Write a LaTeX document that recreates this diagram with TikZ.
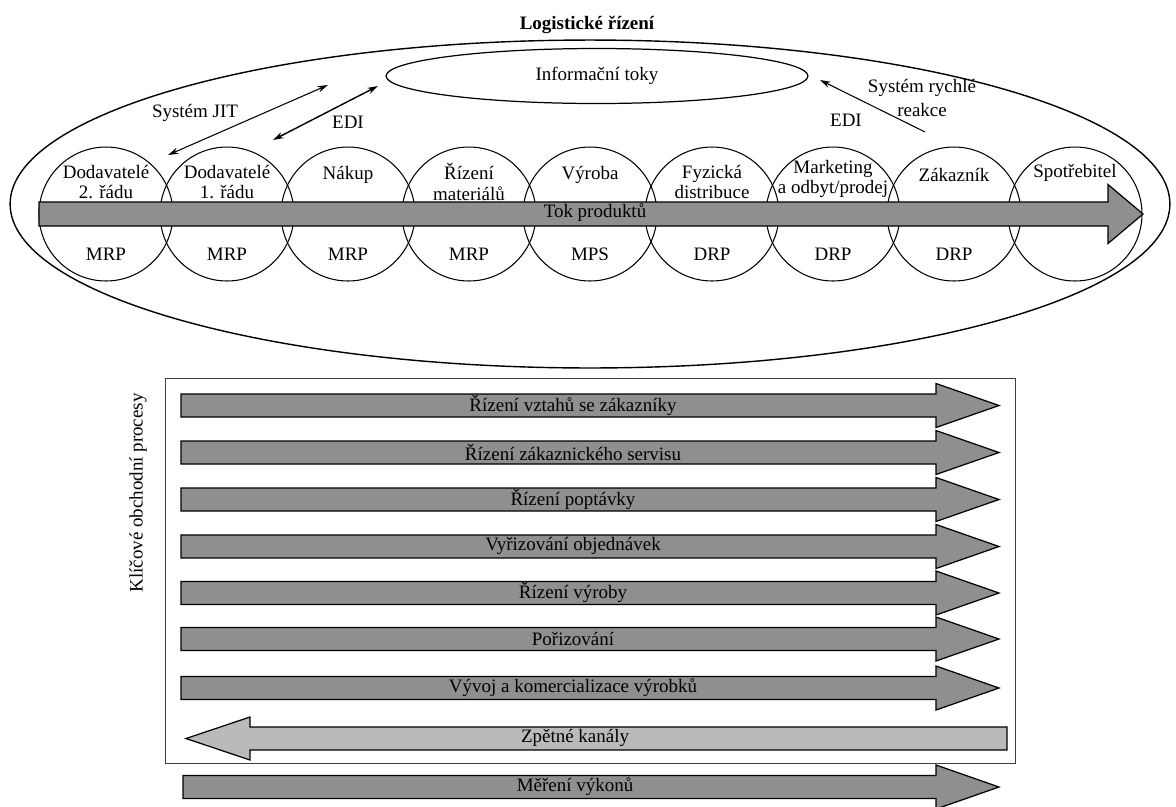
\documentclass[tikz,border=0pt]{standalone}
\usepackage{fontspec}
\setmainfont{Liberation Serif}
\usetikzlibrary{positioning,arrows.meta,shapes.geometric}
\begin{document}
\begin{tikzpicture}[x=0.02cm, y=-0.02cm,
  font=\fontsize{10.8}{11.5}\selectfont,
  >={Stealth[length=6pt,width=3.6pt]},
  stage/.style={circle, draw, line width=0.6pt, minimum size=2.68cm, inner sep=0pt},
  lbl/.style={align=center, inner sep=1pt},
  link/.style={line width=0.6pt},
  flow/.style={draw, line width=0.7pt, fill=black!44},
  backflow/.style={draw, line width=0.7pt, fill=black!27}]
\useasboundingbox (0,0) rectangle (1176,806);
\node[lbl] (title) at (587,25){\bfseries Logistické řízení};
\node[ellipse, draw, line width=0.8pt, minimum width=23.2cm, minimum height=6.56cm] (logist) at (590,204){};
\node[ellipse, draw, line width=0.7pt, minimum width=8.44cm, minimum height=1.1cm] (info) at (597,76){Informační toky};
\node[stage] (c1) at (106,214){};
\node[stage] (c2) at (227,214){};
\node[stage] (c3) at (348,214){};
\node[stage] (c4) at (469,214){};
\node[stage] (c5) at (590,214){};
\node[stage] (c6) at (712,214){};
\node[stage] (c7) at (833,214){};
\node[stage] (c8) at (954,214){};
\node[stage] (c9) at (1075,214){};
\draw[flow] (39,202) -- (1108,202) -- (1108,184.5) -- (1143,214) -- (1108,243.5) -- (1108,226) -- (39,226) -- cycle;
\node[lbl] (tok) at (595,213){Tok produktů};
\node[lbl] (c1t) at (106,182){Dodavatelé\\2. řádu};
\node[lbl] (c2t) at (227,182){Dodavatelé\\1. řádu};
\node[lbl] (c3t) at (348,175){Nákup};
\node[lbl] (c4t) at (469,182){Řízení\\materiálů};
\node[lbl] (c5t) at (590,175){Výroba};
\node[lbl] (c6t) at (712,182){Fyzická\\distribuce};
\node[lbl] (c7t) at (833,179){Marketing\\a odbyt/prodej};
\node[lbl] (c8t) at (954,175){Zákazník};
\node[lbl] (c9t) at (1075,173){Spotřebitel};
\node[lbl] (c1b) at (106,254){MRP};
\node[lbl] (c2b) at (227,254){MRP};
\node[lbl] (c3b) at (348,254){MRP};
\node[lbl] (c4b) at (469,254){MRP};
\node[lbl] (c5b) at (590,254){MPS};
\node[lbl] (c6b) at (712,254){DRP};
\node[lbl] (c7b) at (833,254){DRP};
\node[lbl] (c8b) at (954,254){DRP};
\coordinate (jit1) at (168,155);
\coordinate (jit2) at (328,85);
\coordinate (edi1) at (273,140);
\coordinate (edi2) at (378,86);
\coordinate (qr1) at (925,132);
\coordinate (qr2) at (820,80);
\draw[link, <->](jit1) -- (jit2);
\draw[link, line width=0.8pt, <->](edi1) -- (edi2);
\draw[link, ->](qr1) -- (qr2);
\node[lbl] (jit) at (195,113){Systém JIT};
\node[lbl] (edil) at (348,122){EDI};
\node[lbl] (edir) at (846,120){EDI};
\node[lbl] (qr) at (922,98){Systém rychlé\\[2pt]reakce};
% klicove procesy
\draw[line width=0.5pt, draw=black!75] (165,378) rectangle (1015,763);
\node[lbl, rotate=90] (kop) at (138,493){Klíčové obchodní procesy};
\draw[flow] (181,394) -- ++(755,0) -- ++(0,-10.5) -- ++(63,22) -- ++(-63,22) -- ++(0,-10.5) -- ++(-755,0) -- cycle;
\draw[flow] (181,441) -- ++(755,0) -- ++(0,-10.5) -- ++(63,22) -- ++(-63,22) -- ++(0,-10.5) -- ++(-755,0) -- cycle;
\draw[flow] (181,488) -- ++(755,0) -- ++(0,-10.5) -- ++(63,22) -- ++(-63,22) -- ++(0,-10.5) -- ++(-755,0) -- cycle;
\draw[flow] (181,535) -- ++(755,0) -- ++(0,-10.5) -- ++(63,22) -- ++(-63,22) -- ++(0,-10.5) -- ++(-755,0) -- cycle;
\draw[flow] (181,581.5) -- ++(755,0) -- ++(0,-10.5) -- ++(63,22) -- ++(-63,22) -- ++(0,-10.5) -- ++(-755,0) -- cycle;
\draw[flow] (181,627.5) -- ++(755,0) -- ++(0,-10.5) -- ++(63,22) -- ++(-63,22) -- ++(0,-10.5) -- ++(-755,0) -- cycle;
\draw[flow] (181,676.5) -- ++(755,0) -- ++(0,-10.5) -- ++(63,22) -- ++(-63,22) -- ++(0,-10.5) -- ++(-755,0) -- cycle;
\draw[backflow] (186,738.5) -- (250,717) -- (250,727) -- (1007,727) -- (1007,750) -- (250,750) -- (250,760) -- cycle;
\draw[flow] (183,775.5) -- ++(753,0) -- ++(0,-10.5) -- ++(63,22) -- ++(-63,22) -- ++(0,-10.5) -- ++(-753,0) -- cycle;
\node[lbl] (p1) at (573,405){Řízení vztahů se zákazníky};
\node[lbl] (p2) at (573,452){Řízení zákaznického servisu};
\node[lbl] (p3) at (573,499){Řízení poptávky};
\node[lbl] (p4) at (573,546){Vyřizování objednávek};
\node[lbl] (p5) at (573,592.5){Řízení výroby};
\node[lbl] (p6) at (573,638.5){Pořizování};
\node[lbl] (p7) at (573,687.5){Vývoj a komercializace výrobků};
\node[lbl] (p8) at (575,738){Zpětné kanály};
\node[lbl] (p9) at (575,786.5){Měření výkonů};
\end{tikzpicture}
\end{document}
